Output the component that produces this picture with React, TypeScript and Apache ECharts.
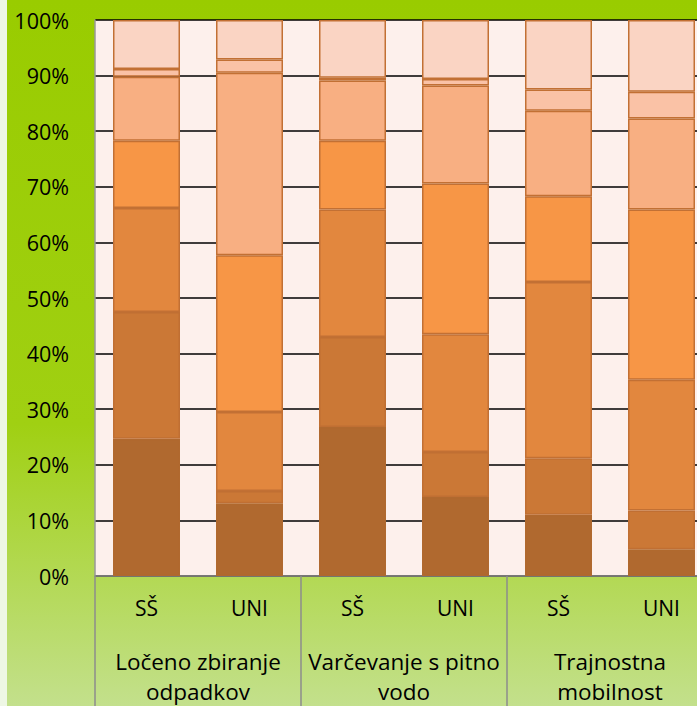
import React, { useEffect, useRef } from "react";
import * as echarts from "echarts";

const levels = ["SŠ", "UNI", "SŠ", "UNI", "SŠ", "UNI"];
const groups = ["Ločeno zbiranje\nodpadkov", "Varčevanje s pitno\nvodo", "Trajnostna\nmobilnost"];

const s1 = [24.7, 13.1, 26.8, 14.2, 11.0, 4.8];
const s2 = [22.8, 2.2, 16.2, 8.1, 10.2, 7.0];
const s3 = [18.7, 14.2, 22.9, 21.2, 31.7, 23.5];
const s4 = [12.1, 28.2, 12.4, 27.1, 15.4, 30.6];
const s5 = [11.5, 32.8, 10.8, 17.6, 15.4, 16.4];
const s6 = [1.4, 2.4, 0.5, 1.2, 3.8, 4.8];
const s7 = [8.8, 7.1, 10.4, 10.6, 12.5, 12.9];

const seriesData = [s1, s2, s3, s4, s5, s6, s7];
const seriesNames = ["1", "2", "3", "4", "5", "6", "7"];
const fills = ["#B0692F", "#CB7836", "#E2873E", "#F79646", "#F8AF82", "#FAC2A6", "#FAD4C3"];
const borders = ["#B0692F", "#C06F33", "#C27034", "#C27034", "#C27034", "#C27034", "#C27034"];

export default function App() {
  const ref = useRef<HTMLDivElement>(null);
  useEffect(() => {
    document.body.style.margin = "0";
    const chart = echarts.init(ref.current!, null, { renderer: "svg" });
    const font = "Open Sans";
    chart.setOption({
      animation: false,
      backgroundColor: new echarts.graphic.LinearGradient(0, 0, 0, 1, [
        { offset: 0, color: "#99CC00" },
        { offset: 0.6, color: "#A0D012" },
        { offset: 1, color: "#C3E08C" },
      ]),
      grid: {
        left: 88,
        top: 20,
        width: 618,
        height: 557,
        show: true,
        backgroundColor: "#FDF0EC",
        borderWidth: 0,
      },
      xAxis: [
        {
          type: "category",
          data: levels,
          position: "bottom",
          axisLine: { show: true, lineStyle: { color: "#8C8C8C", width: 1.5 } },
          axisTick: { show: false },
          axisLabel: { color: "#000", fontSize: 21, fontFamily: font, margin: 21, lineHeight: 22 },
        },
        {
          type: "category",
          data: groups,
          position: "bottom",
          axisLine: { show: false },
          axisTick: { show: true, length: 132, interval: 0, lineStyle: { color: "#8C8C8C", width: 1.5 } },
          axisLabel: { color: "#000", fontSize: 22.5, fontFamily: font, margin: 70, lineHeight: 30, interval: 0 },
        },
      ],
      yAxis: {
        type: "value",
        min: 0,
        max: 100,
        interval: 10,
        axisLine: { show: true, lineStyle: { color: "#999", width: 1.5 } },
        axisTick: { show: false },
        axisLabel: { color: "#000", fontSize: 21.5, fontFamily: font, margin: 26, formatter: "{value}%" },
        splitLine: { show: true, lineStyle: { color: "#000", width: 1.5 } },
      },
      series: seriesData.map((d, i) => ({
        name: seriesNames[i],
        type: "bar",
        stack: "total",
        xAxisIndex: 0,
        barWidth: 67,
        data: d,
        itemStyle: { color: fills[i], borderColor: borders[i], borderWidth: 1.5 },
      })),
    });
    return () => chart.dispose();
  }, []);
  return (
    <div style={{ position: "relative", width: 697, height: 706, background: "#EEF7E4", overflow: "hidden" }}>
      <div ref={ref} style={{ position: "absolute", left: 7, top: 0, width: 730, height: 706 }} />
    </div>
  );
}
